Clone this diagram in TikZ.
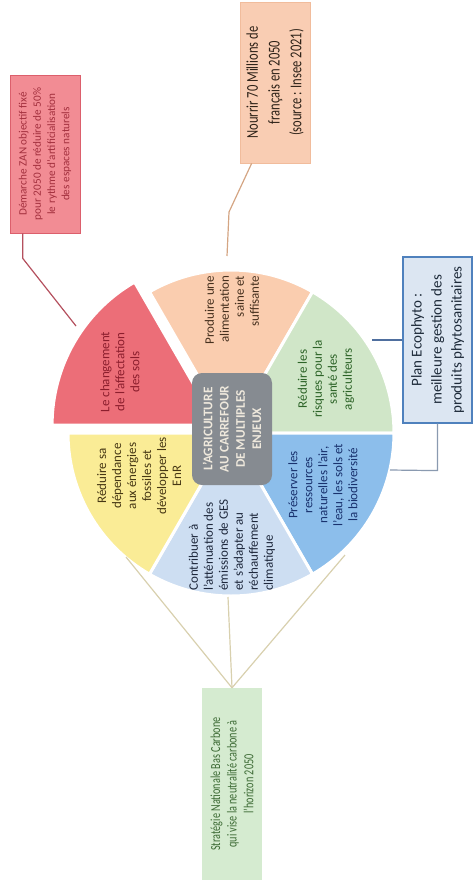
\documentclass[tikz,border=0pt]{standalone}
\usepackage{fontspec}
\setmainfont{Carlito}
\newfontfamily\nourfont[FakeStretch=0.76]{Carlito}
\newfontfamily\snbcfont[FakeStretch=0.74]{Carlito}
\usetikzlibrary{calc}
\definecolor{cRed}{HTML}{EC6E78}
\definecolor{cPeach}{HTML}{FACDAF}
\definecolor{cGreen}{HTML}{D0E6C8}
\definecolor{cBlue}{HTML}{8CBEEB}
\definecolor{cLBlue}{HTML}{CDDEF2}
\definecolor{cYellow}{HTML}{FAEC96}
\definecolor{cHub}{HTML}{868B91}
\definecolor{tRed}{HTML}{8C1E2D}
\definecolor{tPeach}{HTML}{46301E}
\definecolor{tGreen}{HTML}{2D6428}
\definecolor{tBlue}{HTML}{19326E}
\definecolor{tLBlue}{HTML}{1E283C}
\definecolor{tYellow}{HTML}{463714}
\definecolor{tHub}{HTML}{EEE8DC}
\definecolor{bZan}{HTML}{F28C94}
\definecolor{bZanD}{HTML}{DC5F6C}
\definecolor{tZan}{HTML}{A3303E}
\definecolor{bNour}{HTML}{F9CDB3}
\definecolor{bNourD}{HTML}{F1BC9C}
\definecolor{tNour}{HTML}{2E2218}
\definecolor{lNour}{HTML}{D4A583}
\definecolor{bEco}{HTML}{DCE6F2}
\definecolor{bEcoD}{HTML}{4F81BD}
\definecolor{tEco}{HTML}{1E2B3A}
\definecolor{lEco}{HTML}{4F6F9F}
\definecolor{lEco2}{HTML}{8A9AB0}
\definecolor{bSnbc}{HTML}{D5EBD0}
\definecolor{tSnbc}{HTML}{3D6B35}
\definecolor{lSnbc}{HTML}{D8D0AE}
\definecolor{lZan}{HTML}{B4505E}
\begin{document}
\begin{tikzpicture}[x=1pt,y=-1pt,
  sector/.style={draw=white, line width=3pt, line join=round},
  sectxt/.style={rotate=90, inner sep=0pt, font=\fontsize{13}{15}\selectfont},
  hubbox/.style={rotate=90, fill=cHub, rounded corners=10pt, inner sep=0pt,
    align=center, text=tHub, font=\fontsize{13.2}{16.3}\selectfont\bfseries},
  outbox/.style={rotate=90, inner sep=0pt, align=center},
  conn/.style={line width=1.2pt}]
\useasboundingbox (0,0) rectangle (474,892);

% wheel
\coordinate (C) at (231,433);
\coordinate (Cr) at (217.1,425);
\filldraw[sector, fill=cPeach] (C) -- ++(-120:163) arc[start angle=-120, end angle=-60, radius=163] -- cycle;
\filldraw[sector, fill=cGreen] (C) -- ++(-60:163) arc[start angle=-60, end angle=0, radius=163] -- cycle;
\filldraw[sector, fill=cBlue] (C) -- ++(0:163) arc[start angle=0, end angle=60, radius=163] -- cycle;
\filldraw[sector, fill=cLBlue] (C) -- ++(60:163) arc[start angle=60, end angle=120, radius=163] -- cycle;
\filldraw[sector, fill=cYellow] (C) -- ++(120:163) arc[start angle=120, end angle=180, radius=163] -- cycle;
\filldraw[sector, fill=cRed] (Cr) -- ++(180:165) arc[start angle=180, end angle=240, radius=165] -- cycle;

% hub
\node[hubbox, minimum width=112pt, minimum height=80pt] (hub) at (232,429)
  {L’AGRICULTURE\\AU CARREFOUR\\DE MULTIPLES\\ENJEUX};

% sector texts
\node[sectxt, align=center, text=tRed] (sRed) at (120,372) {Le changement\\de l’affectation\\des sols};
\node[sectxt, align=right, text=tPeach] (sPeach) at (232,310) {Produire une\\alimentation\\saine et\\suffisante};
\node[sectxt, align=center, text=tGreen] (sGreen) at (326,379) {Réduire les\\risques pour la\\santé des\\agriculteurs};
\node[sectxt, align=center, text=tBlue] (sBlue) at (323,485) {Préserver les\\ressources\\naturelles l’air,\\l’eau, les sols et\\la biodiversité};
\node[sectxt, align=left, text=tLBlue] (sLBlue) at (232,545) {Contribuer à\\l’atténuation des\\émissions de GES\\et s’adapter au\\réchauffement\\climatique};
\node[sectxt, align=center, text=tYellow] (sYellow) at (139,476) {Réduire sa\\dépendance\\aux énergies\\fossiles et\\développer les\\EnR};

% outer boxes
\node[outbox, fill=bZan, draw=bZanD, line width=0.8pt, minimum width=158pt, minimum height=70pt,
  text=tZan, font=\fontsize{11.2}{14.3}\selectfont] (zan) at (45,154)
  {Démarche ZAN objectif fixé\\pour 2050 de réduire de 50\%\\le rythme d’artificialisation\\des espaces naturels};
\node[outbox, fill=bNour, draw=bNourD, line width=0.8pt, minimum width=161pt, minimum height=70pt,
  text=tNour, font=\nourfont\fontsize{16.5}{21.7}\selectfont] (nour) at (275,82.5)
  {Nourrir 70 Millions de\\français en 2050\\(source : Insee 2021)};
\node[outbox, fill=bEco, draw=bEcoD, line width=1.2pt, minimum width=166pt, minimum height=69pt,
  text=tEco, font=\fontsize{15}{20}\selectfont] (eco) at (437.5,340)
  {Plan Ecophyto :\\meilleure gestion des\\produits phytosanitaires};
\node[outbox, fill=bSnbc, minimum width=192pt, minimum height=60pt,
  text=tSnbc, font=\snbcfont\fontsize{13.8}{16.7}\selectfont] (snbc) at (232,784)
  {Stratégie Nationale Bas Carbone\\qui vise la neutralité carbone à\\l’horizon 2050};

% connector end points
\coordinate (zanEnd) at (76,326);
\coordinate (nourMid) at (229,212);
\coordinate (nourEnd) at (227,256);
\coordinate (ecoEnd1) at (372,340);
\coordinate (ecoEnd2) at (390,470);
\coordinate (snbcY) at (126,557);
\coordinate (snbcL) at (228,597);
\coordinate (snbcB) at (345,555);

% connectors
\draw[conn, lZan] ($(zan.north west)!0.186!(zan.south west)$) -- ++(0,25) -- (zanEnd);
\draw[conn, lNour] ($(nour.north west)!0.17!(nour.south west)$) -- (nourMid) -- (nourEnd);
\draw[conn, lEco] (eco.north) -- (ecoEnd1);
\draw[conn, lEco2] (eco.west) -- ++(0,47) -- (ecoEnd2);
\draw[conn, lSnbc] (snbc.east) -- (snbcY);
\draw[conn, lSnbc] (snbc.east) -- (snbcL);
\draw[conn, lSnbc] (snbc.east) -- (snbcB);
\end{tikzpicture}
\end{document}
